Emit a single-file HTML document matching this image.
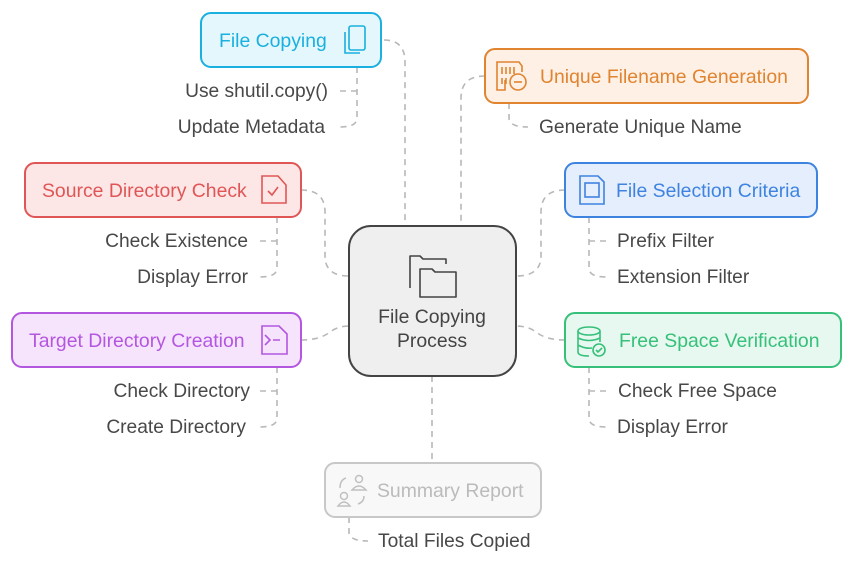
<!DOCTYPE html>
<html><head><meta charset="utf-8"><style>
body{margin:0;background:#fff}
svg{display:block}
text{font-family:"Liberation Sans",sans-serif;font-size:19.4px}
.l{fill:#484848;font-size:19.2px}
.c{fill:none;stroke:#b8b8b8;stroke-width:1.6;stroke-dasharray:6 5}
</style></head><body>
<svg width="854" height="565" viewBox="0 0 854 565">
<path class="c" d="M384 40 Q405 40 405 62 V226"/>
<path class="c" d="M485 76 Q461 76 461 98 V226"/>
<path class="c" d="M301 190 Q325 190 325 212 V256 Q325 276 349 276"/>
<path class="c" d="M565 190 Q541 190 541 212 V256 Q541 276 516 276"/>
<path class="c" d="M301 340 Q320 340 330 332 Q338 326 349 326"/>
<path class="c" d="M565 340 Q546 340 536 332 Q528 326 516 326"/>
<path class="c" d="M432 376 V463"/>
<path class="c" d="M357 67 V118 Q357 127 340 127 M340 91 H357"/>
<path class="c" d="M277 217 V268 Q277 277 260 277 M260 241 H277"/>
<path class="c" d="M277 367 V418 Q277 427 260 427 M260 391 H277"/>
<path class="c" d="M509 103 V118 Q509 127 528 127"/>
<path class="c" d="M589 217 V268 Q589 277 606 277 M606 241 H589"/>
<path class="c" d="M589 367 V418 Q589 427 606 427 M606 391 H589"/>
<path class="c" d="M349 517 V532 Q349 541 368 541"/>
<rect x="349" y="226" width="167" height="150" rx="22" fill="#efefef" stroke="#444" stroke-width="2"/>
<g fill="none" stroke="#444" stroke-width="1.6" stroke-linejoin="round">
<path d="M410 288 V256 H420 L423 259 H446 V264"/>
<path d="M420 297 V269 H432 L435 272 H456 V297 Z"/>
</g>
<text x="432" y="323" text-anchor="middle" fill="#444">File Copying</text>
<text x="432" y="347" text-anchor="middle" fill="#444">Process</text>
<rect x="201" y="13" width="180" height="54" rx="10" fill="#e4f7fd" stroke="#1ab0e0" stroke-width="2"/>
<text x="219" y="47" fill="#1ab0e0">File Copying</text>
<g fill="none" stroke="#1ab0e0" stroke-width="1.6"><rect x="349" y="26" width="16" height="24" rx="2"/><path d="M345 32 V53 H360"/></g>
<rect x="485" y="49" width="323" height="54" rx="10" fill="#fef0e4" stroke="#e08430" stroke-width="2"/>
<text x="540" y="83" fill="#e08430">Unique Filename Generation</text>
<g fill="none" stroke="#e08430" stroke-width="1.6"><path d="M505 80 V90 H497 V62 H519 L522 66 V72"/><circle cx="518" cy="82" r="8"/><path d="M514 82 H522"/><path d="M502 67 V74 M506 67 V74 M510 67 V74 M514 67 V74 M502 78 V84 M506 78 V84"/></g>
<rect x="25" y="163" width="276" height="54" rx="10" fill="#fde6e6" stroke="#e05656" stroke-width="2"/>
<text x="42" y="197" fill="#e05656">Source Directory Check</text>
<g fill="none" stroke="#e05656" stroke-width="1.6"><path d="M262 176 H278 L286 185 V203 H262 Z"/><path d="M268 191 L272 195 L278 187"/></g>
<rect x="565" y="163" width="252" height="54" rx="10" fill="#e4eefd" stroke="#3f83e0" stroke-width="2"/>
<text x="616" y="197" fill="#3f83e0">File Selection Criteria</text>
<g fill="none" stroke="#3f83e0" stroke-width="1.6"><path d="M580 176 H598 L604 182 V204 H580 Z"/><rect x="585" y="183" width="14" height="14"/></g>
<rect x="12" y="313" width="289" height="54" rx="10" fill="#f6e4fd" stroke="#b356e0" stroke-width="2"/>
<text x="29" y="347" fill="#b356e0">Target Directory Creation</text>
<g fill="none" stroke="#b356e0" stroke-width="1.6"><path d="M262 326 H279 L287 334 V354 H262 Z"/><path d="M265 335 L270 340 L265 345 M273 340 H280"/></g>
<rect x="565" y="313" width="276" height="54" rx="10" fill="#e6f8ef" stroke="#37c07a" stroke-width="2"/>
<text x="619" y="347" fill="#37c07a">Free Space Verification</text>
<g fill="none" stroke="#37c07a" stroke-width="1.6"><ellipse cx="589" cy="331" rx="11" ry="4"/><path d="M578 331 V352 Q578 356 589 356 M600 331 V342 M578 338 Q589 343 600 338 M578 345 Q585 349 592 348"/><circle cx="599" cy="350" r="6"/><path d="M596 350 L598 352 L602 348"/></g>
<rect x="325" y="463" width="216" height="54" rx="10" fill="#f8f8f8" stroke="#c8c8c8" stroke-width="2"/>
<text x="377" y="497" fill="#bbb">Summary Report</text>
<g fill="none" stroke="#c0c0c0" stroke-width="1.5"><circle cx="359" cy="479" r="3.5"/><path d="M352 490 Q359 482 366 490 Z"/><circle cx="344" cy="496" r="3.5"/><path d="M338 506 Q344 498 350 506 Z"/><path d="M340 488 Q340 480 346 478 M358 504 Q364 502 364 496"/></g>
<text class="l" x="328" y="97" text-anchor="end">Use shutil.copy()</text>
<text class="l" x="325" y="133" text-anchor="end">Update Metadata</text>
<text class="l" x="248" y="247" text-anchor="end">Check Existence</text>
<text class="l" x="248" y="283" text-anchor="end">Display Error</text>
<text class="l" x="250" y="397" text-anchor="end">Check Directory</text>
<text class="l" x="246" y="433" text-anchor="end">Create Directory</text>
<text class="l" x="539" y="133">Generate Unique Name</text>
<text class="l" x="617" y="247">Prefix Filter</text>
<text class="l" x="617" y="283">Extension Filter</text>
<text class="l" x="618" y="397">Check Free Space</text>
<text class="l" x="617" y="433">Display Error</text>
<text class="l" x="378" y="547">Total Files Copied</text>
</svg>
</body></html>
